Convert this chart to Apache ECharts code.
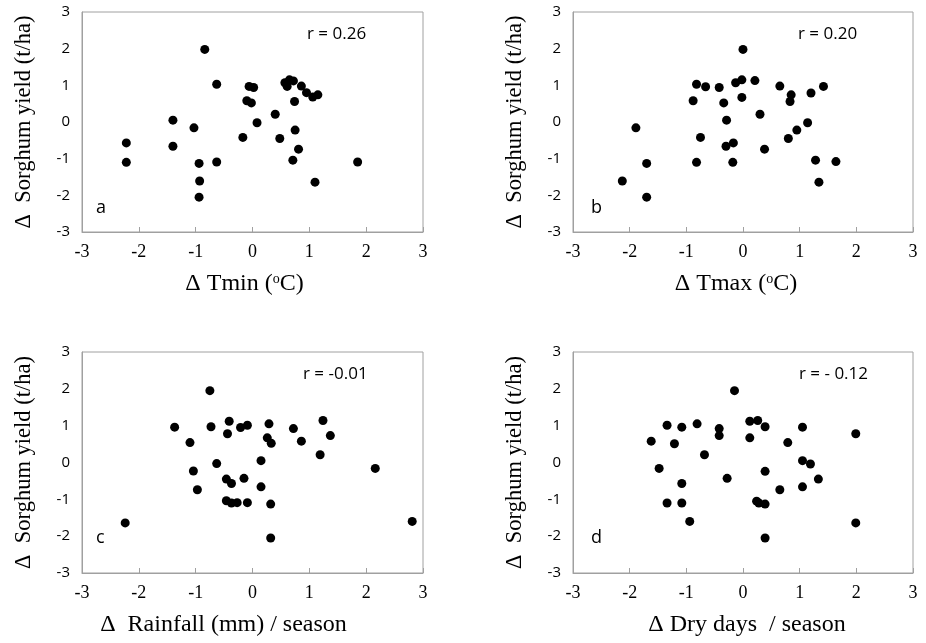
<!DOCTYPE html>
<html>
<head>
<meta charset="utf-8">
<script src="https://cdn.jsdelivr.net/npm/echarts@6/dist/echarts.min.js"></script>
<style>html,body{margin:0;padding:0;background:#fff}#c{width:926px;height:643px}</style>
</head>
<body>
<div id="c"></div>
<script>
// Panel a: Δ Tmin vs Δ yield
var tminX = [-2.22,-2.22,-1.40,-1.40,-0.84,-1.03,-0.94,-0.93,-0.94,-0.63,-0.63,-0.17,-0.06,0.02,-0.10,-0.02,0.08,0.40,0.48,0.57,0.61,0.65,0.72,0.74,0.75,0.81,0.71,0.86,0.95,1.06,1.15,1.10,1.85];
var tminY = [-0.57,-1.10,0.05,-0.66,1.98,-0.16,-1.13,-1.61,-2.05,1.03,-1.09,-0.42,0.97,0.94,0.58,0.52,-0.02,0.21,-0.45,1.07,0.97,1.15,1.12,0.56,-0.22,-0.74,-1.04,0.98,0.80,0.68,0.74,-1.64,-1.09];
// Panel b: Δ Tmax vs Δ yield
var tmaxX = [-2.13,-1.89,-1.70,-1.70,-0.88,-0.82,-0.82,-0.75,-0.66,-0.42,-0.34,-0.29,-0.30,-0.17,-0.18,-0.13,-0.02,0.00,-0.02,0.21,0.30,0.38,0.65,0.85,0.83,0.80,0.95,1.14,1.20,1.42,1.28,1.34,1.64];
var tmaxY = [-1.61,-0.16,-1.13,-2.05,0.58,1.03,-1.10,-0.42,0.96,0.94,0.52,0.05,-0.66,-0.57,-1.10,1.07,1.15,1.98,0.67,1.13,0.21,-0.74,0.98,0.74,0.56,-0.45,-0.22,-0.02,0.79,0.97,-1.04,-1.64,-1.08];
// Panel c: Δ Rainfall vs Δ yield
var rainX = [-2.24,-1.37,-1.10,-1.04,-0.97,-0.75,-0.73,-0.63,-0.41,-0.44,-0.46,-0.37,-0.46,-0.37,-0.27,-0.21,-0.09,-0.15,-0.09,0.15,0.15,0.29,0.26,0.33,0.32,0.32,0.72,0.86,1.19,1.24,1.37,2.16,2.81];
var rainY = [-1.64,0.96,0.54,-0.23,-0.74,1.95,0.97,-0.03,1.12,0.78,-0.45,-0.57,-1.04,-1.10,-1.09,0.95,1.01,-0.43,-1.09,0.05,-0.66,1.05,0.67,0.52,-1.13,-2.05,0.92,0.58,0.21,1.14,0.73,-0.16,-1.60];
// Panel d: Δ Dry days vs Δ yield
var dryX = [-1.62,-1.48,-1.34,-1.34,-1.21,-1.08,-1.08,-1.08,-0.94,-0.81,-0.68,-0.42,-0.42,-0.28,-0.15,0.12,0.12,0.26,0.39,0.39,0.24,0.28,0.39,0.39,0.65,0.79,1.05,1.05,1.19,1.05,1.33,1.99,1.99];
var dryY = [0.58,-0.16,1.01,-1.10,0.51,0.96,-0.57,-1.10,-1.60,1.05,0.21,0.92,0.73,-0.43,1.95,1.12,0.67,1.14,0.97,-0.24,-1.05,-1.10,-1.13,-2.05,-0.74,0.54,0.96,0.05,-0.04,-0.66,-0.45,0.78,-1.64];

var xNames = ['Δ Tmin ({s|o}C)', 'Δ Tmax ({s|o}C)', 'Δ  Rainfall (mm) / season', 'Δ Dry days  / season'];
var yName = 'Δ  Sorghum yield (t/ha)';
var rLabels = ['r = 0.26', 'r = 0.20', 'r = -0.01', 'r = - 0.12'];
var panelLetters = ['a', 'b', 'c', 'd'];
var xTicks = [-3, -2, -1, 0, 1, 2, 3];

var xs = [tminX, tmaxX, rainX, dryX];
var ys = [tminY, tmaxY, rainY, dryY];

var grids = [
  {left: 82, top: 12, width: 341, height: 220},
  {left: 573, top: 12, width: 340, height: 220},
  {left: 82, top: 352, width: 341, height: 221},
  {left: 573, top: 352, width: 340, height: 221}
];
var gray = '#a0a0a0';
var serif = '"Liberation Serif", "Times New Roman", serif';
var sans = '"Open Sans", "Noto Sans", sans-serif';
var xNamePad = [[0,16,0,0],[0,14,0,0],[0,58,0,0],[0,0,0,8]];

var option = {
  backgroundColor: '#fff',
  animation: false,
  grid: grids.map(function(g){ return Object.assign({show: true, borderColor: gray, borderWidth: 1, backgroundColor: 'transparent'}, g); }),
  xAxis: grids.map(function(g, i){
    return {
      gridIndex: i, type: 'value', min: xTicks[0], max: xTicks[xTicks.length-1], interval: 1,
      name: xNames[i], nameLocation: 'middle', nameGap: 40,
      nameTextStyle: {fontFamily: serif, fontSize: 24, color: '#000', padding: xNamePad[i],
        rich: {s: {fontFamily: serif, fontSize: 14, color: '#000', verticalAlign: 'top', padding: [0,0,9,0]}}},
      axisLine: {show: true, onZero: false, lineStyle: {color: gray, width: 1}},
      axisTick: {show: true, inside: true, length: 5, lineStyle: {color: gray}},
      axisLabel: {margin: 11, formatter: '{v|{value}}',
        rich: {v: {fontFamily: serif, fontSize: 18, color: '#000'}}},
      splitLine: {show: false}
    };
  }),
  yAxis: grids.map(function(g, i){
    return {
      gridIndex: i, type: 'value', min: -3, max: 3, interval: 1,
      name: yName, nameLocation: 'middle', nameGap: 46, nameRotate: 90,
      nameTextStyle: {fontFamily: serif, fontSize: 22.5, color: '#000'},
      axisLine: {show: true, onZero: false, lineStyle: {color: gray, width: 1}},
      axisTick: {show: false},
      axisLabel: {margin: 12, formatter: '{v|{value}}',
        rich: {v: {fontFamily: sans, fontSize: 15, color: '#000'}}},
      splitLine: {show: false}
    };
  }),
  series: xs.map(function(x, i){
    return {
      type: 'scatter', xAxisIndex: i, yAxisIndex: i,
      symbol: 'circle', symbolSize: 9,
      itemStyle: {color: '#000', opacity: 1},
      data: x.map(function(v, k){ return [v, ys[i][k]]; })
    };
  }),
  graphic: [
    {type: 'text', left: 307, top: 26, style: {text: rLabels[0], font: '17px ' + sans, fill: '#000'}},
    {type: 'text', left: 798, top: 26, style: {text: rLabels[1], font: '17px ' + sans, fill: '#000'}},
    {type: 'text', left: 303, top: 366, style: {text: rLabels[2], font: '17px ' + sans, fill: '#000'}},
    {type: 'text', left: 799, top: 366, style: {text: rLabels[3], font: '17px ' + sans, fill: '#000'}},
    {type: 'text', left: 96, top: 199, style: {text: panelLetters[0], font: '18px ' + sans, fill: '#000'}},
    {type: 'text', left: 591, top: 199, style: {text: panelLetters[1], font: '18px ' + sans, fill: '#000'}},
    {type: 'text', left: 96, top: 529, style: {text: panelLetters[2], font: '18px ' + sans, fill: '#000'}},
    {type: 'text', left: 591, top: 529, style: {text: panelLetters[3], font: '18px ' + sans, fill: '#000'}}
  ]
};
var chart = echarts.init(document.getElementById('c'), null, {renderer: 'canvas'});
chart.setOption(option);
</script>
</body>
</html>
